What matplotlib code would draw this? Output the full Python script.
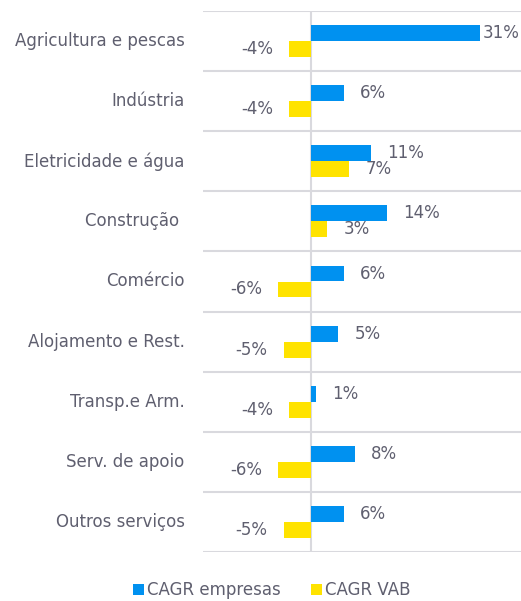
import matplotlib
matplotlib.use("Agg")
import matplotlib.pyplot as plt
import numpy as np

# Categories (top to bottom) and CAGR values in %
sectors = ["Agricultura e pescas", "Indústria", "Eletricidade e água", "Construção ",
           "Comércio", "Alojamento e Rest.", "Transp.e Arm.", "Serv. de apoio",
           "Outros serviços"]
cagr_empresas = [31, 6, 11, 14, 6, 5, 1, 8, 6]
cagr_vab = [-4, -4, 7, 3, -6, -5, -4, -6, -5]

blue = "#0091F0"
yellow = "#FFE300"
txt = "#5F5F6F"
grid = "#D9D9DE"

plt.rcParams['font.family'] = ['DejaVu Sans']
fs = 12

fig = plt.figure(figsize=(5.21, 6.01), dpi=100)
ax = fig.add_axes([203/521, 49/601, 318/521, 541/601])

n = len(sectors)
y = np.arange(n)
h = 0.265

b1 = ax.barh(y - h/2, cagr_empresas, height=h, color=blue, label="CAGR empresas")
b2 = ax.barh(y + h/2, cagr_vab, height=h, color=yellow, label="CAGR VAB")

ax.set_xlim(-19.8, 38.5)
ax.set_ylim(n - 0.5, -0.5)

# category separators and zero line
for k in range(n + 1):
    ax.axhline(k - 0.5, color=grid, lw=1.5, zorder=0)
ax.axvline(0, color=grid, lw=1.5, zorder=0)

for v, yy in zip(cagr_empresas, y - h/2):
    off = 16 if v < 30 else 3
    ax.annotate(f"{v}%", (v, yy), xytext=(off, 0), textcoords="offset pixels",
                ha="left", va="center", color=txt, fontsize=fs)
for v, yy in zip(cagr_vab, y + h/2):
    if v < 0:
        ax.annotate(f"{v}%", (v, yy), xytext=(-16, 0), textcoords="offset pixels",
                    ha="right", va="center", color=txt, fontsize=fs)
    else:
        ax.annotate(f"{v}%", (v, yy), xytext=(16, 0), textcoords="offset pixels",
                    ha="left", va="center", color=txt, fontsize=fs)

for s, yy in zip(sectors, y):
    ax.text(-0.058, yy, s, transform=ax.get_yaxis_transform(), ha="right",
            va="center", color=txt, fontsize=fs)

ax.set_xticks([])
ax.set_yticks([])
for sp in ax.spines.values():
    sp.set_visible(False)

fig.legend(handles=[b1, b2], loc="center", bbox_to_anchor=(272/521, 1 - 590/601),
           ncol=2, frameon=False, fontsize=fs, labelcolor=txt,
           handlelength=0.65, handleheight=0.65, handletextpad=0.2, columnspacing=1.8)

fig.savefig("out.png", dpi=100)
